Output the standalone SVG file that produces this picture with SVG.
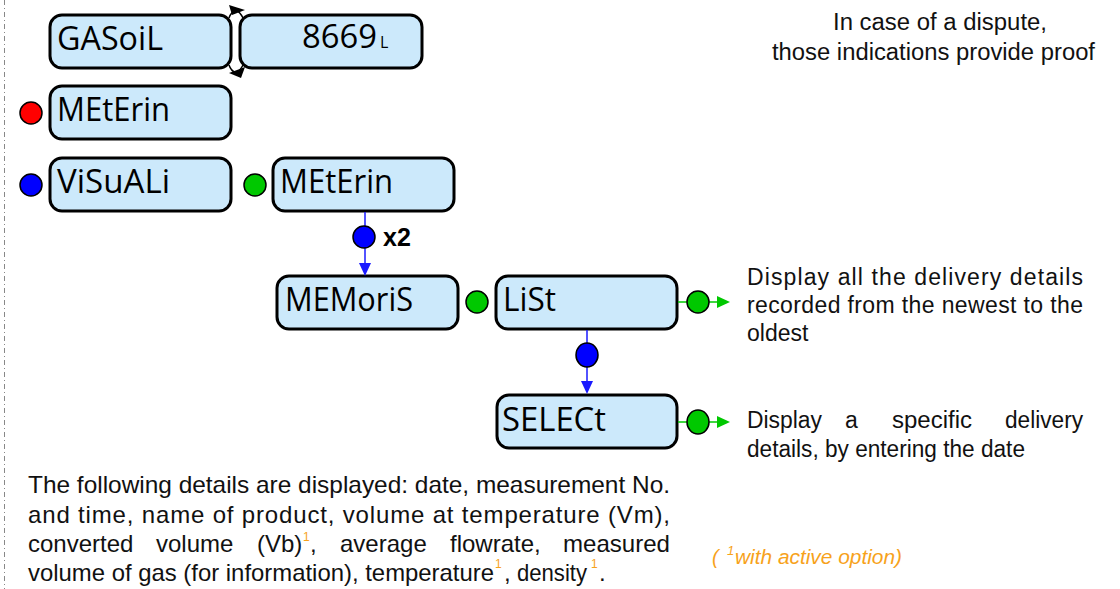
<svg xmlns="http://www.w3.org/2000/svg" width="1120" height="589" viewBox="0 0 1120 589">
<style>
.box{fill:#cce9fb;stroke:#000;stroke-width:3}
.bt{font-family:"Open Sans","DejaVu Sans",sans-serif;font-size:32px;fill:#000}
.t{font-family:"Liberation Sans",Arial,sans-serif;font-size:23px;fill:#111}
.p{font-family:"Liberation Sans",Arial,sans-serif;font-size:24px;fill:#111}
.sup{font-family:"Liberation Sans",Arial,sans-serif;font-size:12px;fill:#f7a21b}
.dot{stroke:#000;stroke-width:1.5}
.bl{stroke:#1a1aff;stroke-width:1.5;fill:none}
.gl{stroke:#00c800;stroke-width:1.5;fill:none}
</style>
<line x1="4.5" y1="0" x2="4.5" y2="589" stroke="#888" stroke-width="1" stroke-dasharray="5,3,1,3"/>
<g id="gasoil"><rect class="box" x="50" y="15" width="181" height="53" rx="12"/><text class="bt" x="57" y="50" textLength="106" lengthAdjust="spacingAndGlyphs">GASoiL</text></g>
<g id="value"><rect class="box" x="240" y="15" width="182" height="53" rx="12"/><text class="bt" x="302" y="48" textLength="75" lengthAdjust="spacingAndGlyphs">8669</text><text x="380" y="48" font-family="Open Sans,DejaVu Sans,sans-serif" font-size="16">L</text></g>
<g id="meterin1"><circle class="dot" cx="31" cy="113" r="11" fill="#ff0000"/><rect class="box" x="50" y="86" width="181" height="53" rx="12"/><text class="bt" x="57" y="121" textLength="113" lengthAdjust="spacingAndGlyphs">MEtErin</text></g>
<g id="visuali"><circle class="dot" cx="31" cy="185" r="11" fill="#0000ff"/><rect class="box" x="50" y="158" width="181" height="53" rx="12"/><text class="bt" x="57" y="193" textLength="113" lengthAdjust="spacingAndGlyphs">ViSuALi</text></g>
<g id="meterin2"><circle class="dot" cx="255" cy="185" r="11" fill="#00c800"/><rect class="box" x="273" y="158" width="181" height="53" rx="12"/><text class="bt" x="280" y="193" textLength="113" lengthAdjust="spacingAndGlyphs">MEtErin</text></g>
<g id="memoris"><rect class="box" x="277" y="276" width="181" height="53" rx="12"/><text class="bt" x="285" y="311" textLength="128" lengthAdjust="spacingAndGlyphs">MEMoriS</text></g>
<g id="list"><circle class="dot" cx="477" cy="302" r="11" fill="#00c800"/><rect class="box" x="496" y="276" width="181" height="53" rx="12"/><text class="bt" x="503" y="311" textLength="53" lengthAdjust="spacingAndGlyphs">LiSt</text></g>
<g id="select"><rect class="box" x="497" y="395" width="180" height="53" rx="12"/><text class="bt" x="502" y="431" textLength="104" lengthAdjust="spacingAndGlyphs">SELECt</text></g>
<g id="connectors">
<path d="M229,18 Q231,12 236,10" fill="none" stroke="#000" stroke-width="1.5"/>
<path d="M243,18 Q240,12 236,10" fill="none" stroke="#000" stroke-width="1.5"/>
<polygon points="229,5 245,10 232,15" fill="#000"/>
<path d="M229,65 Q231,71 236,73" fill="none" stroke="#000" stroke-width="1.5"/>
<path d="M243,65 Q240,71 236,73" fill="none" stroke="#000" stroke-width="1.5"/>
<polygon points="245,67 229,73 241,78" fill="#000"/>
<line class="bl" x1="365" y1="212" x2="365" y2="264"/>
<polygon points="359,263 371,263 365,276" fill="#1a1aff"/>
<circle class="dot" cx="364" cy="237" r="11" fill="#0000ff"/>
<text x="383" y="246" font-family="Liberation Sans,Arial,sans-serif" font-size="25" font-weight="bold">x2</text>
<line class="bl" x1="587" y1="330" x2="587" y2="382"/>
<polygon points="581,381 593,381 587,394" fill="#1a1aff"/>
<ellipse class="dot" cx="587" cy="355" rx="11" ry="12" fill="#0000ff"/>
<line class="gl" x1="678" y1="302" x2="720" y2="302"/>
<circle class="dot" cx="698" cy="302" r="11" fill="#00c800"/>
<polygon points="717,296 730,302 717,308" fill="#00c800"/>
<line class="gl" x1="678" y1="422" x2="720" y2="422"/>
<ellipse class="dot" cx="698" cy="422" rx="11" ry="12" fill="#00c800"/>
<polygon points="717,416 730,422 717,428" fill="#00c800"/>
</g>
<text class="t" x="833" y="30" textLength="214" lengthAdjust="spacingAndGlyphs">In case of a dispute,</text>
<text class="t" x="772" y="60" textLength="323" lengthAdjust="spacingAndGlyphs">those indications provide proof</text>
<text class="t" x="747" y="285" textLength="336" lengthAdjust="spacing">Display all the delivery details</text>
<text class="t" x="747" y="313" textLength="336" lengthAdjust="spacing">recorded from the newest to the</text>
<text class="t" x="747" y="341">oldest</text>
<text class="t" x="747" y="428" textLength="75" lengthAdjust="spacingAndGlyphs">Display</text>
<text class="t" x="845" y="428">a</text>
<text class="t" x="892" y="428" textLength="80" lengthAdjust="spacingAndGlyphs">specific</text>
<text class="t" x="1005" y="428" textLength="78" lengthAdjust="spacingAndGlyphs">delivery</text>
<text class="t" x="747" y="457" textLength="278" lengthAdjust="spacingAndGlyphs">details, by entering the date</text>
<text class="p" x="28" y="493" textLength="642" lengthAdjust="spacingAndGlyphs">The following details are displayed: date, measurement No.</text>
<text class="p" x="28" y="523" textLength="642" lengthAdjust="spacing">and time, name of product, volume at temperature (Vm),</text>
<text class="p" x="28" y="552">converted</text>
<text class="p" x="156" y="552">volume</text>
<text class="p" x="257" y="552">(Vb)</text><text class="sup" x="303" y="541">1</text><text class="p" x="310" y="552">,</text>
<text class="p" x="340" y="552">average</text>
<text class="p" x="450" y="552">flowrate,</text>
<text class="p" x="563" y="552" textLength="107" lengthAdjust="spacingAndGlyphs">measured</text>
<text class="p" x="28" y="581" textLength="466" lengthAdjust="spacingAndGlyphs">volume of gas (for information), temperature</text><text class="sup" x="495" y="568">1</text><text class="p" x="504" y="581">,</text><text class="p" x="517" y="581" textLength="70" lengthAdjust="spacingAndGlyphs">density</text><text class="sup" x="591" y="568">1</text><text class="p" x="599" y="581">.</text>
<g font-family="Liberation Sans,Arial,sans-serif" font-style="italic" fill="#f7a21b">
<text x="712" y="564" font-size="20">(</text>
<text x="727" y="555" font-size="13">1</text>
<text x="735" y="564" font-size="20" textLength="167" lengthAdjust="spacingAndGlyphs">with active option)</text>
</g>
</svg>
